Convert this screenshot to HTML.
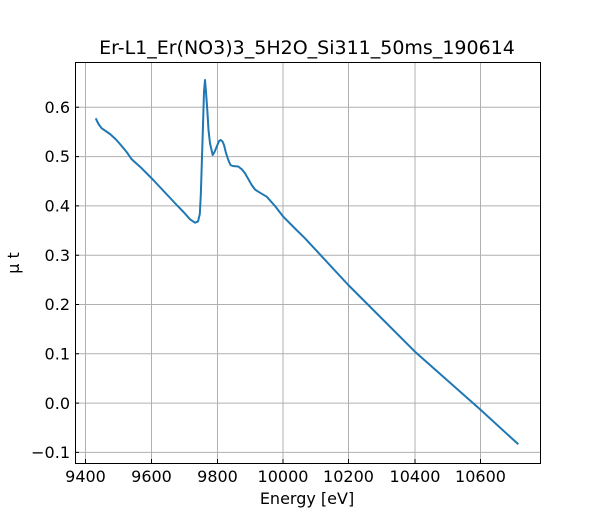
<!DOCTYPE html>
<html><head><style>body{margin:0;background:#fff}svg text{font-family:"DejaVu Sans","Liberation Sans",sans-serif;fill:#000}</style></head>
<body><svg width="600" height="520" viewBox="0 0 600 520">
<g stroke="#b0b0b0" stroke-width="1">
<line x1="85.5" y1="62" x2="85.5" y2="463"/><line x1="151.5" y1="62" x2="151.5" y2="463"/><line x1="217.5" y1="62" x2="217.5" y2="463"/><line x1="283" y1="62" x2="283" y2="463"/><line x1="348.5" y1="62" x2="348.5" y2="463"/><line x1="415" y1="62" x2="415" y2="463"/><line x1="480.5" y1="62" x2="480.5" y2="463"/>
<line x1="75" y1="107.3" x2="540" y2="107.3"/><line x1="75" y1="156.6" x2="540" y2="156.6"/><line x1="75" y1="205.9" x2="540" y2="205.9"/><line x1="75" y1="255.2" x2="540" y2="255.2"/><line x1="75" y1="304.5" x2="540" y2="304.5"/><line x1="75" y1="353.8" x2="540" y2="353.8"/><line x1="75" y1="403.1" x2="540" y2="403.1"/><line x1="75" y1="452.4" x2="540" y2="452.4"/>
</g>
<g stroke="#000" stroke-width="1">
<path d="M85.5 463v-4M151.5 463v-4M217.5 463v-4M283 463v-4M348.5 463v-4M415 463v-4M480.5 463v-4"/>
<path d="M75 107.3h4M75 156.6h4M75 205.9h4M75 255.2h4M75 304.5h4M75 353.8h4M75 403.1h4M75 452.4h4"/>
</g>
<polyline fill="none" stroke="#1f77b4" stroke-width="2" stroke-linejoin="round" points="95.7,118.3 98.5,124 101.7,128.3 110,134 116,139.5 121.7,146 127,152.5 131.7,159.3 141.7,168.3 153.3,180 165,192.5 176.7,205 184,212.5 190,219.3 195,222.7 198,221.5 199.8,214 200.8,195 201.7,166.7 203,125 204,92 205,80 206,92 207.3,110 208.5,130 210,143.3 212.7,155 214.5,152 216.7,146.7 219,141 220.7,140 222.5,141.5 224,145 226,153 228.3,160 230.5,165 232.7,166 238.3,166.5 242,169.5 245,173.3 251.7,185 255,189.5 258.3,191.7 266.7,196.7 275,206 283.3,216.7 295,228.5 305,238.3 348.3,285 415,351.7 480,409.3 518.3,444.3"/>
<rect x="75.5" y="62.5" width="465" height="401" fill="none" stroke="#000" stroke-width="1"/>
<g font-size="16" text-anchor="middle">
<text x="85.5" y="482">9400</text><text x="151.5" y="482">9600</text><text x="217.5" y="482">9800</text><text x="283" y="482">10000</text><text x="348.5" y="482">10200</text><text x="415" y="482">10400</text><text x="480.5" y="482">10600</text>
<text x="307" y="504">Energy [eV]</text>
<text x="307" y="54" font-size="19">Er-L1_Er(NO3)3_5H2O_Si311_50ms_190614</text>
</g>
<g font-size="16" text-anchor="end">
<text x="70" y="113">0.6</text><text x="70" y="162">0.5</text><text x="70" y="211.5">0.4</text><text x="70" y="261">0.3</text><text x="70" y="310">0.2</text><text x="70" y="359.5">0.1</text><text x="70" y="409">0.0</text><text x="70" y="458">−0.1</text>
</g>
<text transform="translate(19,263) rotate(-90)" font-size="16" text-anchor="middle">μ t</text>
</svg></body></html>
